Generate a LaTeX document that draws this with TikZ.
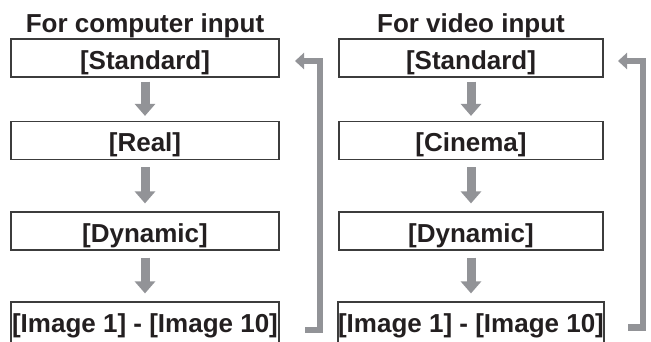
\documentclass[tikz,border=0pt]{standalone}
\usepackage{fontspec}
\setmainfont{Liberation Sans}
\usetikzlibrary{arrows.meta}
\definecolor{arrowgray}{RGB}{146,147,151}
\definecolor{boxline}{RGB}{60,60,60}
\definecolor{textdark}{RGB}{35,31,32}
\tikzset{
  modebox/.style={draw=boxline, line width=1.2pt, minimum height=38pt,
    inner sep=0pt, text height=23pt, text depth=0pt, text=textdark,
    font=\bfseries\fontsize{26}{30}\selectfont},
  lastbox/.style={modebox, minimum height=44pt, text height=16pt},
  coltitle/.style={anchor=base, inner sep=0pt, text=textdark,
    font=\bfseries\fontsize{26}{30}\selectfont},
  steparrow/.style={draw=arrowgray, line width=9pt,
    -{Triangle[width=20pt,length=12pt]}, shorten <=7pt, shorten >=8pt},
  backarrow/.style={draw=arrowgray, line width=6.5pt,
    -{Triangle[width=16pt,length=9pt]}},
}
\begin{document}
\begin{tikzpicture}[x=1pt, y=-1pt]
  \useasboundingbox (0,0) rectangle (651,342);
  % Computer input
  \node[coltitle] (ctitle) at (145,33) {For computer input};
  \node[modebox, minimum width=268pt] (cstd) at (145,58) {[Standard]};
  \node[modebox, minimum width=268pt] (creal) at (145,140.5) {[Real]};
  \node[modebox, minimum width=268pt] (cdyn) at (145,231) {[Dynamic]};
  \node[lastbox, minimum width=268pt] (cimg) at (145,324) {[Image 1] - [Image 10]};
  \draw[steparrow, shorten <=4pt, shorten >=5pt] (cstd) -- (creal);
  \draw[steparrow] (creal) -- (cdyn);
  \draw[steparrow] (cdyn) -- (cimg);
  \coordinate (cbot) at (305,330);
  \coordinate (ctip) at (295,61);
  \draw[backarrow] (cbot) -- ++(15,0) |- (ctip);
  % Video input
  \node[coltitle] (vtitle) at (471,33) {For video input};
  \node[modebox, minimum width=264pt] (vstd) at (471,58) {[Standard]};
  \node[modebox, minimum width=264pt] (vcin) at (471,140.5) {[Cinema]};
  \node[modebox, minimum width=264pt] (vdyn) at (471,231) {[Dynamic]};
  \node[lastbox, minimum width=264pt] (vimg) at (471,324) {[Image 1] - [Image 10]};
  \draw[steparrow, shorten <=4pt, shorten >=5pt] (vstd) -- (vcin);
  \draw[steparrow] (vcin) -- (vdyn);
  \draw[steparrow] (vdyn) -- (vimg);
  \coordinate (vbot) at (628,327.5);
  \coordinate (vtip) at (618,61);
  \draw[backarrow] (vbot) -- ++(15,0) |- (vtip);
\end{tikzpicture}
\end{document}
